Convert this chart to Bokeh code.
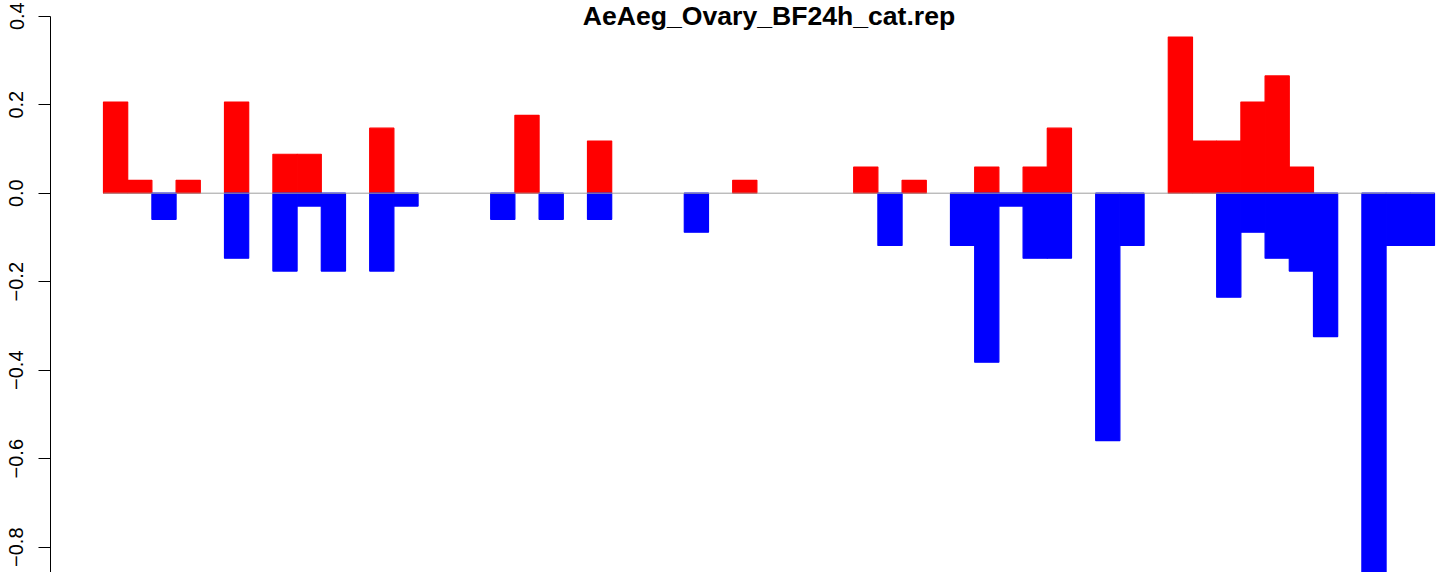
import numpy as np
from bokeh.plotting import figure
from bokeh.models import Range1d, FixedTicker, Label, ColumnDataSource
from bokeh.embed import file_html
from bokeh.resources import INLINE

# ---- data ----
title_text = "AeAeg_Ovary_BF24h_cat.rep"
up = [0.206, 0.029, 0.0, 0.029, 0.0, 0.206, 0.0, 0.088, 0.088, 0.0,
      0.0, 0.147, 0.0, 0.0, 0.0, 0.0, 0.0, 0.176, 0.0, 0.0,
      0.118, 0.0, 0.0, 0.0, 0.0, 0.0, 0.029, 0.0, 0.0, 0.0,
      0.0, 0.059, 0.0, 0.029, 0.0, 0.0, 0.059, 0.0, 0.059, 0.147,
      0.0, 0.0, 0.0, 0.0, 0.353, 0.118, 0.118, 0.206, 0.265, 0.059,
      0.0, 0.0, 0.0, 0.0, 0.0]
down = [0.0, 0.0, -0.059, 0.0, 0.0, -0.147, 0.0, -0.176, -0.029, -0.176,
        0.0, -0.176, -0.029, 0.0, 0.0, 0.0, -0.059, 0.0, -0.059, 0.0,
        -0.059, 0.0, 0.0, 0.0, -0.088, 0.0, 0.0, 0.0, 0.0, 0.0,
        0.0, 0.0, -0.118, 0.0, 0.0, -0.118, -0.382, -0.029, -0.147, -0.147,
        0.0, -0.559, -0.118, 0.0, 0.0, 0.0, -0.235, -0.088, -0.147, -0.176,
        -0.324, 0.0, -0.882, -0.118, -0.118]
y_ticks = [-0.8, -0.6, -0.4, -0.2, 0.0, 0.2, 0.4]
y_tick_labels = ["\u22120.8", "\u22120.6", "\u22120.4", "\u22120.2", "0.0", "0.2", "0.4"]

n = len(up)
centers = [i + 0.5 for i in range(n)]
up_src = ColumnDataSource(dict(x=[c for c, v in zip(centers, up) if v != 0],
                               top=[v for v in up if v != 0]))
down_src = ColumnDataSource(dict(x=[c for c, v in zip(centers, down) if v != 0],
                                 bottom=[v for v in down if v != 0]))

FONT = "Liberation Sans"
Y_TOP = 0.4355

p = figure(width=1441, height=572,
           x_range=Range1d(-2.19, 55.29), y_range=Range1d(-0.8572, Y_TOP),
           output_backend="svg", toolbar_location=None,
           x_axis_location=None, y_axis_location="left",
           min_border=0, min_border_left=50, min_border_right=0,
           min_border_top=0, min_border_bottom=0)
p.outline_line_color = None
p.xgrid.grid_line_color = None
p.ygrid.grid_line_color = None
p.background_fill_color = "white"
p.border_fill_color = "white"

p.vbar(x="x", top="top", bottom=0, width=1.0, source=up_src,
       fill_color="#FF0000", line_color="#FF0000", line_width=1.2)
p.vbar(x="x", top=0, bottom="bottom", width=1.0, source=down_src,
       fill_color="#0000FF", line_color="#0000FF", line_width=1.2)

# zero reference line spanning the bars
p.line(x=[0, n], y=[0, 0], line_color="#9E9E9E", line_width=1)

ax = p.yaxis[0]
ax.ticker = FixedTicker(ticks=y_ticks)
ax.major_label_overrides = {t: s for t, s in zip(y_ticks, y_tick_labels)}
ax.bounds = (-1.0, 0.4)
ax.axis_line_color = "black"
ax.axis_line_width = 1
ax.major_tick_line_color = "black"
ax.major_tick_line_width = 1
ax.major_tick_out = 12
ax.major_tick_in = 0
ax.minor_tick_line_color = None
ax.major_label_orientation = "vertical"
ax.major_label_standoff = 15
ax.major_label_text_font = FONT
ax.major_label_text_font_size = "20px"
ax.major_label_text_color = "black"

title = Label(x=n / 2, y=Y_TOP - 1.0 / 442.5, text=title_text,
              text_align="center", text_baseline="top",
              text_font=FONT, text_font_style="bold", text_font_size="26.6px",
              text_color="black")
p.add_layout(title)

open("out.html", "w").write(file_html(p, INLINE))
